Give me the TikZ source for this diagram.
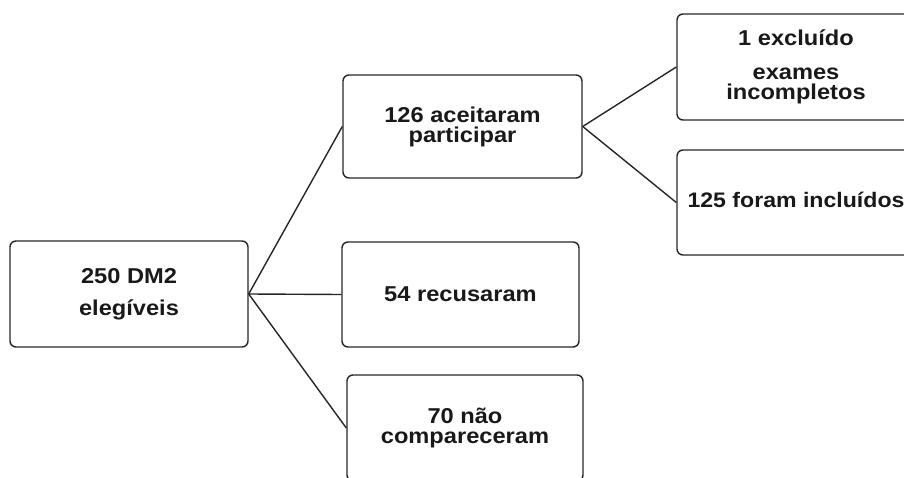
\documentclass[tikz,border=0pt]{standalone}
\usepackage{fontspec}
\setmainfont{Liberation Sans}[FakeStretch=1.1]
\begin{document}
\begin{tikzpicture}[x=1pt,y=-1pt,
  box/.style={draw=black!85, line width=1.4pt, rounded corners=6pt, rectangle,
    inner sep=0pt, align=center, text=black!90,
    font=\bfseries\fontsize{21.5}{20}\selectfont},
  link/.style={draw=black!85, line width=1.4pt}]
\useasboundingbox (0,0) rectangle (904,478);
\clip (0,0) rectangle (904,478);
\node[box, minimum width=238pt, minimum height=106pt] (a) at (129,294) {250 DM2\\[12pt]elegíveis};
\node[box, minimum width=239pt, minimum height=103pt] (b) at (462.5,126.5) {126 aceitaram\\participar};
\node[box, minimum width=237pt, minimum height=105pt] (c) at (460.5,294.5) {54 recusaram};
\node[box, minimum width=236pt, minimum height=106pt] (d) at (465,428) {70 não\\compareceram};
\node[box, minimum width=238pt, minimum height=106pt] (e) at (796,67) {1 excluído\\[14pt]exames\\incompletos};
\node[box, minimum width=238pt, minimum height=105pt] (f) at (796,202.5) {\raisebox{5pt}{\fontsize{21}{20}\selectfont 125 foram incluídos}};
\draw[link] (a.east) -- (b.west);
\draw[link] (a.east) -- (c.west);
\draw[link] (a.east) -- (d.west);
\draw[link] (b.east) -- (e.west);
\draw[link] (b.east) -- (f.west);
\end{tikzpicture}
\end{document}
